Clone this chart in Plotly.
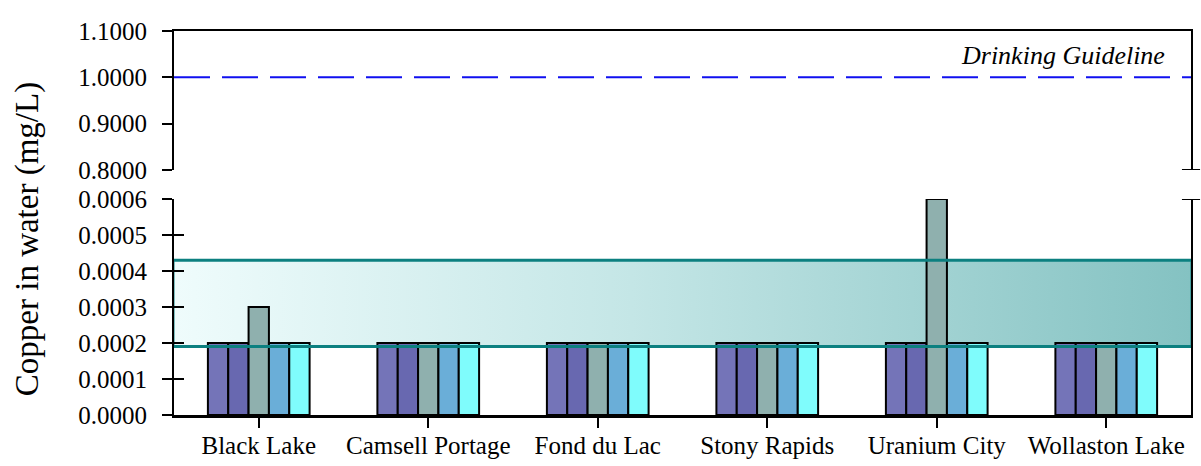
import plotly.graph_objects as go

# ---- data ----
communities = ["Black Lake", "Camsell Portage", "Fond du Lac", "Stony Rapids", "Uranium City", "Wollaston Lake"]
series_names = ["Series 1", "Series 2", "Series 3", "Series 4", "Series 5"]
s1 = [0.0002, 0.0002, 0.0002, 0.0002, 0.0002, 0.0002]
s2 = [0.0002, 0.0002, 0.0002, 0.0002, 0.0002, 0.0002]
s3 = [0.0003, 0.0002, 0.0002, 0.0002, 0.0006, 0.0002]
s4 = [0.0002, 0.0002, 0.0002, 0.0002, 0.0002, 0.0002]
s5 = [0.0002, 0.0002, 0.0002, 0.0002, 0.0002, 0.0002]
series_values = [s1, s2, s3, s4, s5]
band_low = 0.00019
band_high = 0.00043
guideline = 1.0
guideline_label = "Drinking Guideline"
lower_ticks = [0.0, 0.0001, 0.0002, 0.0003, 0.0004, 0.0005, 0.0006]
upper_ticks = [0.8, 0.9, 1.0, 1.1]
y_title = "Copper in water (mg/L)"

# ---- styles ----
bar_colors = ["#7474b8", "#6868b0", "#8fb0ae", "#6aaed8", "#7ffcfc"]
FONT = "Liberation Serif"
TEAL = "#0c8080"
xpos = list(range(len(communities)))
xr = [-0.5, len(communities) - 0.5]
low_dom = [0, 0.5625]
up_dom = [0.638, 1]

fig = go.Figure()

# band fill (base lower subplot, below bars)
fig.add_trace(go.Scatter(
    x=[xr[0], xr[1], xr[1], xr[0], xr[0]],
    y=[band_low, band_low, band_high, band_high, band_low],
    fill="toself", mode="lines", line=dict(color=TEAL, width=1),
    fillgradient=dict(type="horizontal",
                      colorscale=[[0, "#effcfc"], [0.45, "#c4e6e6"], [1, "#84c2c2"]]),
    xaxis="x", yaxis="y", showlegend=False, hoverinfo="skip"))

# bars on overlay axis
for name, vals, col in zip(series_names, series_values, bar_colors):
    fig.add_trace(go.Bar(
        x=xpos, y=vals, name=name, marker=dict(color=col, line=dict(color="black", width=2)),
        xaxis="x", yaxis="y3", showlegend=False))

# band edges above bars
for v in (band_low, band_high):
    fig.add_trace(go.Scatter(x=xr, y=[v, v], mode="lines", line=dict(color=TEAL, width=3),
                             xaxis="x", yaxis="y3", showlegend=False, hoverinfo="skip"))

# drinking guideline
fig.add_trace(go.Scatter(x=xr, y=[guideline, guideline], mode="lines",
                         line=dict(color="#1010f0", width=2, dash="36px,12px"),
                         xaxis="x2", yaxis="y2", showlegend=False, hoverinfo="skip"))

tickfont = dict(family=FONT, size=25, color="black")
yax_common = dict(showline=True, linecolor="black", linewidth=2, mirror=True,
                  ticks="outside", ticklen=10, tickwidth=2, tickcolor="black",
                  tickformat=".4f", showgrid=False, zeroline=False, tickfont=tickfont,
                  ticklabelstandoff=10, automargin=False)
overlay_common = dict(ticks="inside", ticklen=10, tickwidth=2, tickcolor="black",
                      showticklabels=False, showline=False, showgrid=False, zeroline=False,
                      automargin=False)

fig.update_layout(
    width=1201, height=466,
    margin=dict(l=174, r=10, t=31, b=51),
    paper_bgcolor="white", plot_bgcolor="rgba(0,0,0,0)",
    barmode="group", bargap=0.4, bargroupgap=0,
    xaxis=dict(domain=[0, 1], range=xr, anchor="y", tickvals=xpos, ticktext=communities,
               showline=True, linecolor="black", linewidth=3, ticks="outside", ticklen=10,
               tickwidth=2, tickcolor="black", showgrid=False, zeroline=False,
               automargin=False, ticklabelstandoff=-4,
               tickfont=dict(family=FONT, size=25, color="black")),
    yaxis=dict(domain=low_dom, range=[lower_ticks[0], lower_ticks[-1]], anchor="x",
               tickvals=lower_ticks, **yax_common),
    yaxis3=dict(overlaying="y", range=[lower_ticks[0], lower_ticks[-1]], anchor="x",
                tickvals=lower_ticks, **overlay_common),
    xaxis2=dict(domain=[0, 1], range=xr, anchor="y2", side="top", showline=True,
                linecolor="black", linewidth=2, ticks="", showticklabels=False,
                showgrid=False, zeroline=False, automargin=False),
    yaxis2=dict(domain=up_dom, range=[upper_ticks[0], upper_ticks[-1]], anchor="x2",
                tickvals=upper_ticks, **yax_common),
    yaxis4=dict(overlaying="y2", range=[upper_ticks[0], upper_ticks[-1]], anchor="x2",
                tickvals=upper_ticks, **overlay_common),
    shapes=[
        dict(type="line", xref="paper", yref="y2", x0=1 - 0.0089, x1=1 + 0.0089,
             y0=upper_ticks[0], y1=upper_ticks[0], line=dict(color="black", width=2)),
        dict(type="line", xref="paper", yref="y", x0=1 - 0.0089, x1=1 + 0.0089,
             y0=lower_ticks[-1], y1=lower_ticks[-1], line=dict(color="black", width=2)),
    ],
    annotations=[
        dict(text=guideline_label, xref="x2", yref="y2", x=xr[1], y=1.048,
             xanchor="right", yanchor="middle", xshift=-24, showarrow=False,
             font=dict(family=FONT, size=26, color="black", style="italic")),
        dict(text=y_title, xref="paper", yref="paper", x=-0.1445, y=0.458,
             xanchor="center", yanchor="middle", textangle=-90, showarrow=False,
             font=dict(family=FONT, size=33, color="black")),
    ],
)

fig.write_html("out.html")
